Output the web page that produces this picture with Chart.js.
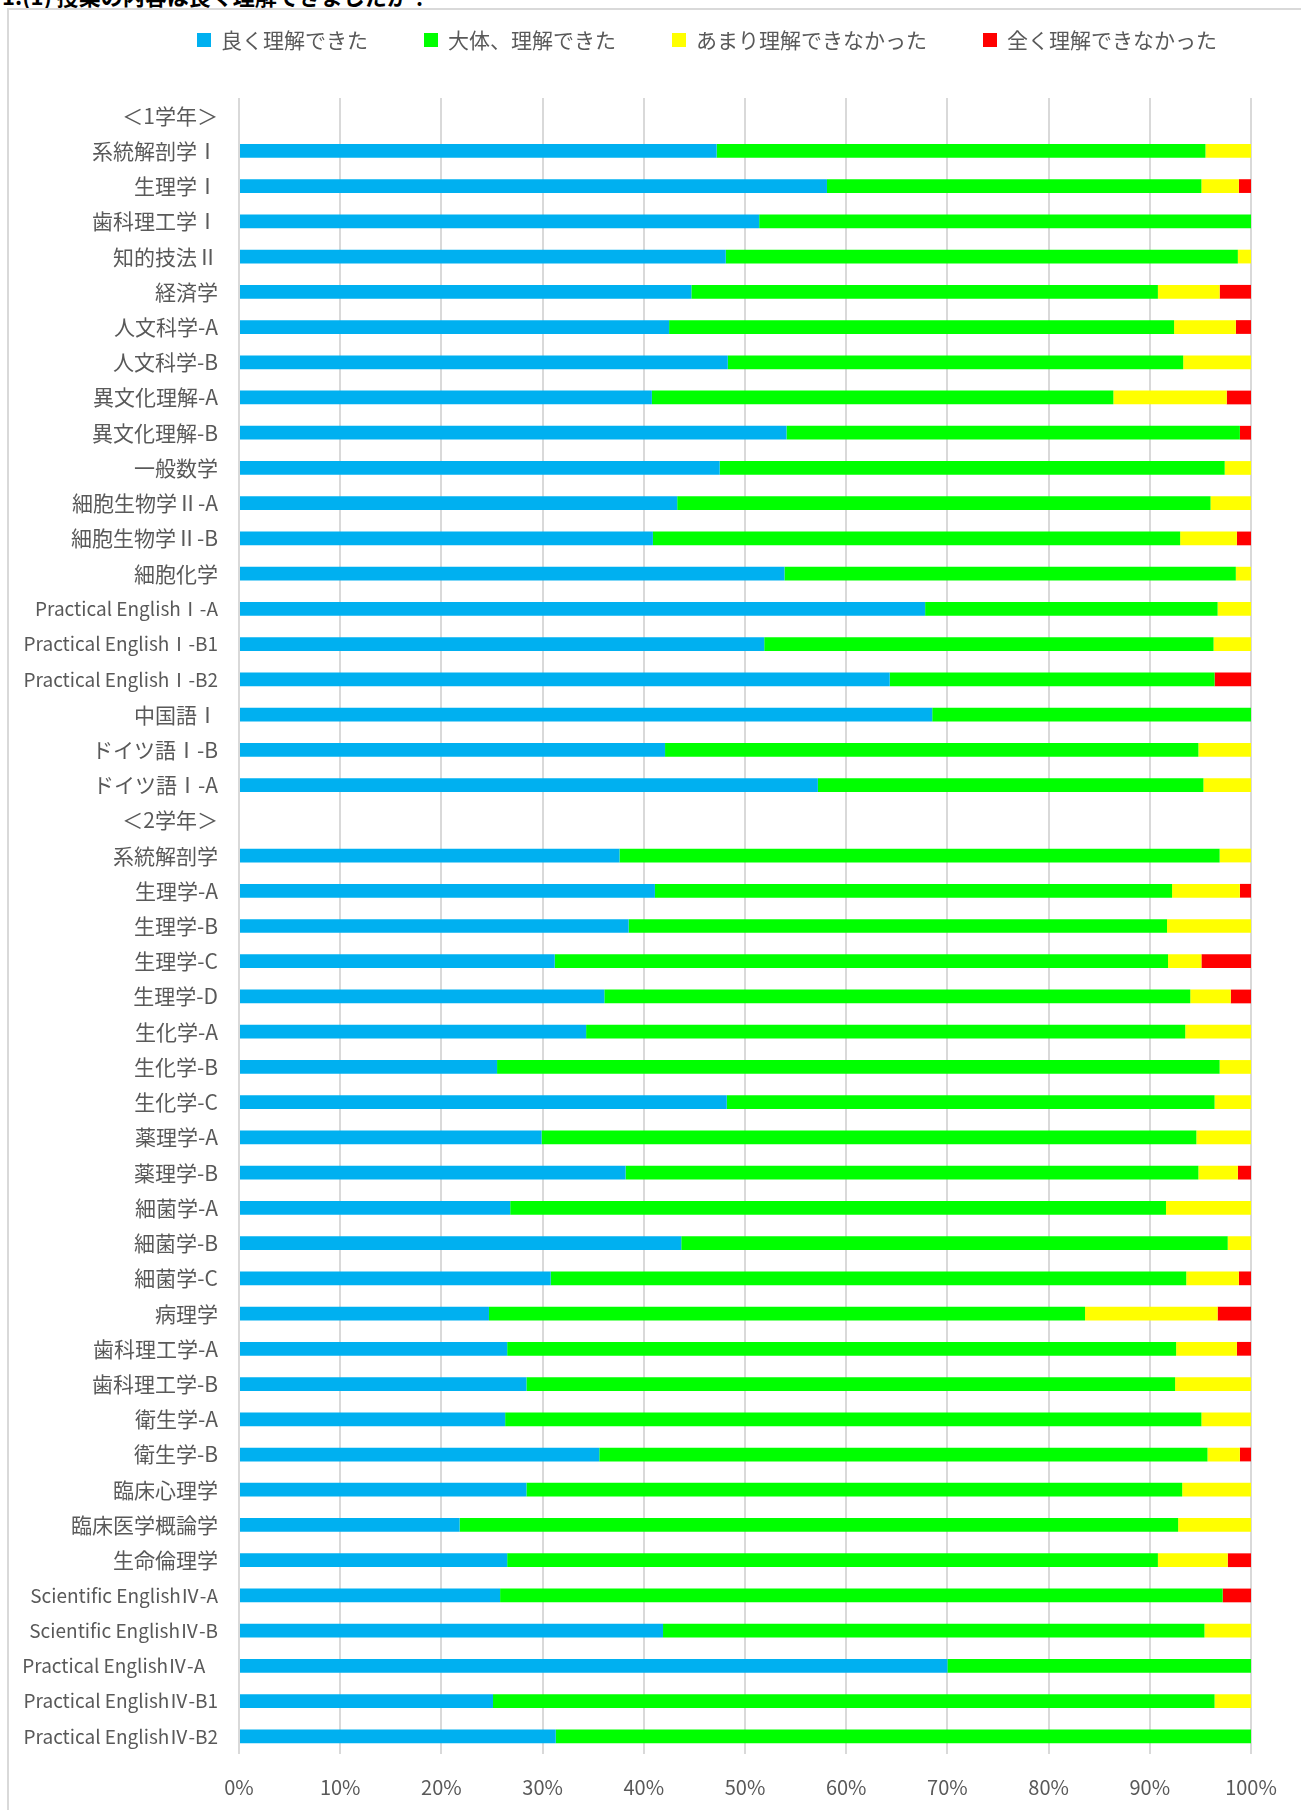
<!DOCTYPE html>
<html lang="ja">
<head>
<meta charset="utf-8">
<title>授業の理解度</title>
<script src="https://cdn.jsdelivr.net/npm/chart.js@4.4.1/dist/chart.umd.min.js"></script>
<style>
  html, body { margin: 0; padding: 0; background: #fff; overflow: hidden; }
  body { width: 1301px; height: 1810px; position: relative; }
  .heading {
    position: absolute; left: 2px; top: -16px;
    font: bold 22px 'Noto Sans CJK JP', sans-serif; line-height: 1;
    color: #000; white-space: nowrap;
  }
  .frame {
    position: absolute; left: 7px; top: 8px; width: 1400px; height: 1900px;
    border: 2px solid #d9d9d9; box-sizing: border-box;
  }
  .chart-wrap { position: absolute; left: 0; top: 0; width: 1301px; height: 1820px; }
</style>
</head>
<body>
<div class="heading">1.(1) 授業の内容は良く理解できましたか？</div>
<div class="frame"></div>
<div class="chart-wrap"><canvas id="understandingChart"></canvas></div>

<script>
// Course names, grouped by year (the header rows carry no data)
const courses = [
    '＜1学年＞', '系統解剖学Ⅰ', '生理学Ⅰ', '歯科理工学Ⅰ', '知的技法Ⅱ', '経済学',
    '人文科学-A', '人文科学-B', '異文化理解-A', '異文化理解-B', '一般数学',
    '細胞生物学Ⅱ-A', '細胞生物学Ⅱ-B', '細胞化学', 'Practical EnglishⅠ-A',
    'Practical EnglishⅠ-B1', 'Practical EnglishⅠ-B2', '中国語Ⅰ', 'ドイツ語Ⅰ-B', 'ドイツ語Ⅰ-A',
    '＜2学年＞', '系統解剖学', '生理学-A', '生理学-B', '生理学-C', '生理学-D',
    '生化学-A', '生化学-B', '生化学-C', '薬理学-A', '薬理学-B', '細菌学-A', '細菌学-B',
    '細菌学-C', '病理学', '歯科理工学-A', '歯科理工学-B', '衛生学-A', '衛生学-B',
    '臨床心理学', '臨床医学概論学', '生命倫理学', 'Scientific EnglishⅣ-A',
    'Scientific EnglishⅣ-B', 'Practical EnglishⅣ-A   ', 'Practical EnglishⅣ-B1',
    'Practical EnglishⅣ-B2'
];

// Share of answers (%) per course
const wellUnderstood = [
    null, 47.2, 58.1, 51.4, 48.1, 44.7, 42.5, 48.3, 40.8, 54.1, 47.5, 43.3, 40.9, 53.9, 67.8,
    51.9, 64.3, 68.5, 42.1, 57.2,
    null, 37.6, 41.1, 38.5, 31.2, 36.1, 34.3, 25.5, 48.2, 29.9, 38.2, 26.8, 43.7, 30.8, 24.7,
    26.5, 28.4, 26.3, 35.6, 28.4, 21.8, 26.5, 25.8, 41.9, 70.0, 25.1, 31.3
];
const mostlyUnderstood = [
    null, 48.3, 37.0, 48.6, 50.6, 46.1, 49.9, 45.0, 45.6, 44.8, 49.9, 52.7, 52.1, 44.6, 28.9,
    44.4, 32.1, 31.5, 52.7, 38.1,
    null, 59.3, 51.1, 53.2, 60.6, 57.9, 59.2, 71.4, 48.2, 64.7, 56.6, 64.8, 54.0, 62.8, 58.9,
    66.1, 64.1, 68.8, 60.1, 64.8, 71.0, 64.3, 71.4, 53.5, 30.0, 71.3, 68.7
];
const barelyUnderstood = [
    null, 4.5, 3.7, 0, 1.3, 6.1, 6.1, 6.7, 11.2, 0, 2.6, 4.0, 5.6, 1.5, 3.3,
    3.7, 0, 0, 5.2, 4.7,
    null, 3.1, 6.7, 8.3, 3.3, 4.0, 6.5, 3.1, 3.6, 5.4, 3.9, 8.4, 2.3, 5.2, 13.1,
    6.0, 7.5, 4.9, 3.2, 6.8, 7.2, 6.9, 0, 4.6, 0, 3.6, 0
];
const notUnderstood = [
    null, 0, 1.2, 0, 0, 3.1, 1.5, 0, 2.4, 1.1, 0, 0, 1.4, 0, 0,
    0, 3.6, 0, 0, 0,
    null, 0, 1.1, 0, 4.9, 2.0, 0, 0, 0, 0, 1.3, 0, 0, 1.2, 3.3,
    1.4, 0, 0, 1.1, 0, 0, 2.3, 2.8, 0, 0, 0, 0
];

const seriesNames = ['良く理解できた', '大体、理解できた', 'あまり理解できなかった', '全く理解できなかった'];
const seriesColors = ['#00B0F0', '#00FF00', '#FFFF00', '#FF0000'];

const textColor = '#595959';
const fontFamily = "'Noto Sans CJK JP', 'Noto Sans', sans-serif";

// Single-row legend drawn above the plot
const legendRow = {
    id: 'legendRow',
    afterDraw(chart, args, opts) {
        const ctx = chart.ctx;
        const sets = chart.data.datasets;
        ctx.save();
        ctx.font = `${opts.size}px ${fontFamily}`;
        ctx.textBaseline = 'middle';
        ctx.textAlign = 'left';
        const widths = sets.map(ds => opts.box + opts.gap + ctx.measureText(ds.label).width);
        const total = widths.reduce((a, b) => a + b, 0) + opts.spacing * (sets.length - 1);
        let x = opts.centerX - total / 2;
        sets.forEach((ds, i) => {
            ctx.fillStyle = ds.backgroundColor;
            ctx.fillRect(x, opts.y - opts.box / 2, opts.box, opts.box);
            ctx.fillStyle = textColor;
            ctx.fillText(ds.label, x + opts.box + opts.gap, opts.y);
            x += widths[i] + opts.spacing;
        });
        ctx.restore();
    }
};

const seriesData = [wellUnderstood, mostlyUnderstood, barelyUnderstood, notUnderstood];

const datasets = seriesNames.map((name, i) => ({
    label: name,
    data: seriesData[i],
    backgroundColor: seriesColors[i],
    borderWidth: 0,
    categoryPercentage: 1,
    barPercentage: 0.39
}));

// Latin course names are set a little smaller so they keep the same width
const tickFont = (context) => {
    const label = courses[context.index] || '';
    return { family: fontFamily, size: /[A-Za-z]{3}/.test(label) ? 19 : 21 };
};

const ctx = document.getElementById('understandingChart').getContext('2d');

new Chart(ctx, {
    type: 'bar',
    data: { labels: courses, datasets: datasets },
    plugins: [legendRow],
    options: {
        indexAxis: 'y',
        responsive: true,
        maintainAspectRatio: false,
        animation: false,
        layout: { padding: { top: 98, right: 50, bottom: 0, left: 0 } },
        scales: {
            x: {
                stacked: true,
                min: 0,
                max: 100,
                ticks: {
                    stepSize: 10,
                    color: textColor,
                    font: { family: fontFamily, size: 20 },
                    padding: 21,
                    callback: v => v + '%'
                },
                grid: { color: '#d9d9d9', lineWidth: 2, drawTicks: false },
                border: { display: false }
            },
            y: {
                stacked: true,
                afterFit: scale => { scale.width = 239; },
                ticks: {
                    color: textColor,
                    font: tickFont,
                    padding: 21,
                    autoSkip: false
                },
                grid: { display: false, drawTicks: false },
                border: { display: false }
            }
        },
        plugins: {
            legend: { display: false },
            tooltip: { enabled: false },
            legendRow: { centerX: 707, y: 40, size: 21, box: 14, gap: 10, spacing: 56 }
        }
    }
});
</script>
</body>
</html>
